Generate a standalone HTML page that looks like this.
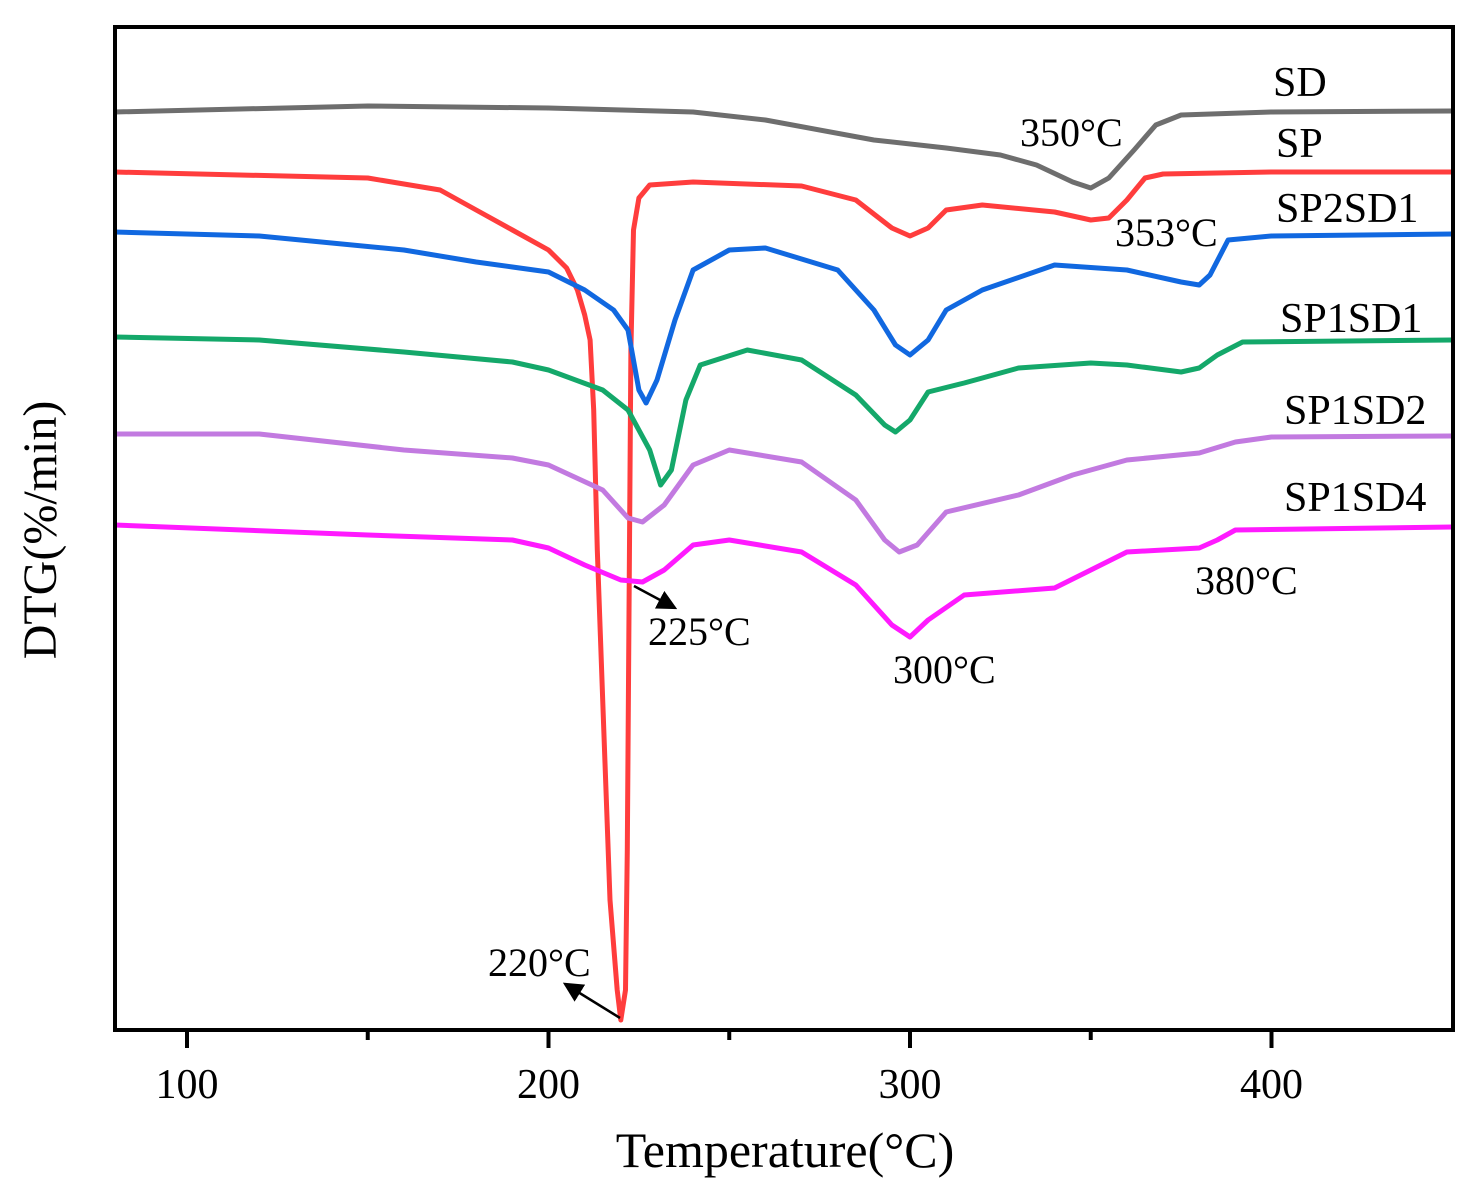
<!DOCTYPE html>
<html><head><meta charset="utf-8"><style>
html,body{margin:0;padding:0;background:#fff}
svg{display:block;font-family:"Liberation Serif",serif}
</style></head><body>
<svg id="chart" width="1484" height="1190" viewBox="0 0 1484 1190" xmlns="http://www.w3.org/2000/svg">
<g id="series"></g>
<rect x="115" y="27" width="1338" height="1003" fill="none" stroke="#000" stroke-width="4"/>
<g id="xticks"></g>
<text x="785" y="1167" font-size="50" text-anchor="middle">Temperature(°C)</text>
<text transform="translate(56,530) rotate(-90)" font-size="48" text-anchor="middle">DTG(%/min)</text>
<g font-size="42">
<text x="1273" y="96">SD</text>
<text x="1276" y="157">SP</text>
<text x="1276" y="222">SP2SD1</text>
<text x="1280" y="332">SP1SD1</text>
<text x="1284" y="424">SP1SD2</text>
<text x="1284" y="511">SP1SD4</text>
</g>
<g font-size="40">
<text x="1020" y="146">350°C</text>
<text x="1115" y="246">353°C</text>
<text x="1195" y="594">380°C</text>
<text x="893" y="683">300°C</text>
<text x="648" y="645">225°C</text>
<text x="488" y="976">220°C</text>
</g>
<defs><marker id="ah" markerWidth="8" markerHeight="8" refX="7" refY="4" orient="auto" markerUnits="strokeWidth"><path d="M0,0 L8,4 L0,8 Z" fill="#000"/></marker></defs>
<line x1="620" y1="1018" x2="565" y2="984" stroke="#000" stroke-width="2.5" marker-end="url(#ah)"/>
<line x1="634" y1="586" x2="675" y2="608" stroke="#000" stroke-width="2.5" marker-end="url(#ah)"/>
</svg>
<script>
const xTicks=[100,200,300,400];
const xMinor=[150,250,350];
const sdT=[80,150,200,240,260,290,310,325,335,345,350,355,362,368,375,400,450];
const sdV=[918,924,922,918,910,890,882,875,865,848,842,852,880,905,915,918,919];
const spT=[80,150,170,180,190,200,205,208,210,211.5,212.5,213.5,215,217,219,220,221.3,221.8,222.3,222.8,223.5,225,228,240,270,285,295,300,305,310,320,340,350,355,360,365,370,400,450];
const spV=[858,852,840,820,800,780,762,740,715,690,620,480,330,130,40,10,40,180,430,680,800,832,845,848,844,830,802,794,802,820,825,818,810,812,830,852,856,858,858];
const sp2T=[80,120,160,180,190,200,210,218,222,225,227,230,235,240,250,260,280,290,296,300,305,310,320,340,360,375,380,383,388,400,450];
const sp2V=[798,794,780,768,763,758,740,720,700,640,627,650,710,760,780,782,760,720,685,675,690,720,740,765,760,748,745,755,790,794,796];
const sp11T=[80,120,160,190,200,215,222,228,231,234,238,242,255,270,285,293,296,300,305,315,330,350,360,375,380,385,392,450];
const sp11V=[693,690,678,668,660,640,620,580,545,560,630,665,680,670,635,605,598,610,638,647,662,667,665,658,662,675,688,690];
const sp12T=[80,120,160,190,200,215,222,226,232,240,250,270,285,293,297,302,310,330,345,360,380,390,400,450];
const sp12V=[596,596,580,572,565,540,512,508,525,565,580,568,530,490,478,485,518,535,555,570,577,588,593,594];
const sp14T=[80,150,190,200,210,220,226,232,240,250,270,285,295,300,305,315,340,350,360,380,385,390,450];
const sp14V=[505,495,490,482,465,450,448,460,485,490,478,445,405,393,410,435,442,460,478,482,490,500,503];
const xScale=t=>187+(t-100)*3.615;
const yScale=v=>1030-v;
const NS="http://www.w3.org/2000/svg";
const series=[["sd",sdT,sdV,"#6e6e6e"],["sp",spT,spV,"#ff3d3d"],["sp2sd1",sp2T,sp2V,"#1168e0"],["sp1sd1",sp11T,sp11V,"#14a86a"],["sp1sd2",sp12T,sp12V,"#c27ae0"],["sp1sd4",sp14T,sp14V,"#ff1aff"]];
const g=document.getElementById('series');
series.forEach(s=>{
  const p=document.createElementNS(NS,'path');
  let d=s[1].map((t,i)=>(i?'L':'M')+xScale(t).toFixed(1)+','+yScale(s[2][i]).toFixed(1)).join(' ');
  p.setAttribute('d',d);p.setAttribute('fill','none');p.setAttribute('stroke',s[3]);
  p.setAttribute('stroke-width','5');p.setAttribute('stroke-linejoin','round');
  
  
  g.appendChild(p);
});
const xg=document.getElementById('xticks');
xTicks.forEach(t=>{
  const l=document.createElementNS(NS,'line');
  l.setAttribute('x1',xScale(t));l.setAttribute('x2',xScale(t));l.setAttribute('y1',1030);l.setAttribute('y2',1048);
  l.setAttribute('stroke','#000');l.setAttribute('stroke-width','4');
  
  
  xg.appendChild(l);
  const tx=document.createElementNS(NS,'text');
  tx.setAttribute('x',xScale(t));tx.setAttribute('y',1098);tx.setAttribute('font-size','42');tx.setAttribute('text-anchor','middle');
  tx.textContent=t;
  
  
  xg.appendChild(tx);
});
xMinor.forEach(t=>{
  const l=document.createElementNS(NS,'line');
  l.setAttribute('x1',xScale(t));l.setAttribute('x2',xScale(t));l.setAttribute('y1',1030);l.setAttribute('y2',1040);
  l.setAttribute('stroke','#000');l.setAttribute('stroke-width','4');
  
  
  xg.appendChild(l);
});
</script>
</body></html>
